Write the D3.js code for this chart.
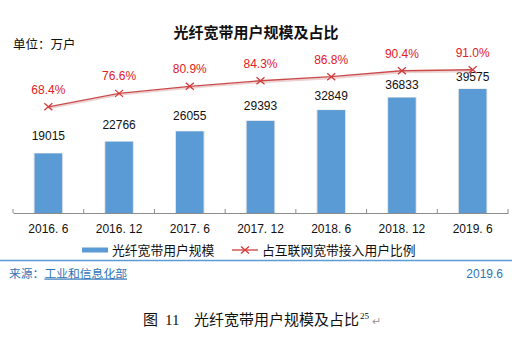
<!DOCTYPE html>
<html><head><meta charset="utf-8">
<script src="https://cdn.jsdelivr.net/npm/d3@7"></script>
<style>
html,body{margin:0;padding:0;background:#fff;}
svg{display:block;}
</style></head>
<body>
<script>
const categories = ["2016. 6","2016. 12","2017. 6","2017. 12","2018. 6","2018. 12","2019. 6"];
const users = [19015, 22766, 26055, 29393, 32849, 36833, 39575];
const shares = [68.4, 76.6, 80.9, 84.3, 86.8, 90.4, 91.0];
const titleText = "光纤宽带用户规模及占比";
const unitText = "单位：万户";
const legendBar = "光纤宽带用户规模";
const legendLine = "占互联网宽带接入用户比例";

const W = 512, H = 345;
const svg = d3.select("body").append("svg").attr("width", W).attr("height", H);
svg.append("rect").attr("width", W).attr("height", H).attr("fill", "#fff");

const sans = "'Liberation Sans', Arial, 'Noto Sans CJK SC', sans-serif";
const cjk = "'Noto Sans CJK SC', 'Liberation Sans', sans-serif";

const x = d3.scaleBand().domain(categories).range([13, 508]).paddingInner(0.61).paddingOuter(0.305);
const y = d3.scaleLinear().domain([0, 45000]).range([213, 72]);
const y2 = d3.scaleLinear().domain([0, 100]).range([219, 55]);

// title
svg.append("text").attr("x", 256).attr("y", 38).attr("text-anchor", "middle")
  .attr("font-family", cjk).attr("font-weight", "bold").attr("font-size", 15).attr("fill", "#111")
  .text(titleText);
svg.append("text").attr("x", 13).attr("y", 49)
  .attr("font-family", cjk).attr("font-size", 12.5).attr("fill", "#111").text(unitText);

// bars with subtle shadow
const cx = d => x(d) + x.bandwidth() / 2;
svg.append("g").selectAll("rect.sh").data(categories).join("rect")
  .attr("x", d => x(d) - 1).attr("width", x.bandwidth() + 2)
  .attr("y", (d, i) => y(users[i]) - 0.5).attr("height", (d, i) => 213 - y(users[i]) + 0.5)
  .attr("fill", "#e4e4e4");
svg.append("g").selectAll("rect.b").data(categories).join("rect")
  .attr("x", d => x(d)).attr("width", x.bandwidth())
  .attr("y", (d, i) => y(users[i])).attr("height", (d, i) => 213 - y(users[i]))
  .attr("fill", "#5B9BD5");

// axis
const axis = d3.axisBottom(x).tickSize(0).tickPadding(11);
const ag = svg.append("g").attr("transform", "translate(0,213)").call(axis);
ag.select(".domain").attr("stroke", "#8c8c8c").attr("stroke-width", 1);
ag.selectAll("text").attr("font-family", sans).attr("font-size", 12).attr("fill", "#111");
const bounds = categories.map(d => x(d) - x.step() * x.paddingInner() / 2).concat([508]);
ag.selectAll("line.bt").data(bounds).join("line").attr("class", "bt")
  .attr("x1", d => d).attr("x2", d => d).attr("y1", -4).attr("y2", 0)
  .attr("stroke", "#8c8c8c");

// bar value labels
svg.append("g").selectAll("text").data(categories).join("text")
  .attr("x", d => cx(d)).attr("y", (d, i) => y(users[i]) - 13 + i * 0.8)
  .attr("text-anchor", "middle").attr("font-family", sans).attr("font-size", 12).attr("fill", "#111")
  .text((d, i) => users[i]);

// line
const line = d3.line().x(d => cx(d[0])).y(d => y2(d[1]));
const pts = categories.map((d, i) => [d, shares[i]]);
svg.append("path").datum(pts).attr("d", line).attr("fill", "none")
  .attr("stroke", "#ecd2d2").attr("stroke-width", 2).attr("transform", "translate(0,1.5)");
svg.append("path").datum(pts).attr("d", line).attr("fill", "none")
  .attr("stroke", "#C94A4A").attr("stroke-width", 1.3);
const mk = (g, px, py) => {
  g.append("path").attr("d", `M${px-4},${py-3.5}L${px+4},${py+3.5}M${px-4},${py+3.5}L${px+4},${py-3.5}`)
    .attr("stroke", "#D23A3A").attr("stroke-width", 1.3).attr("fill", "none");
};
const mg = svg.append("g");
pts.forEach(p => mk(mg, cx(p[0]), y2(p[1])));
svg.append("g").selectAll("text").data(pts).join("text")
  .attr("x", d => cx(d[0])).attr("y", d => y2(d[1]) - 13)
  .attr("text-anchor", "middle").attr("font-family", sans).attr("font-size", 12).attr("fill", "#E0201F")
  .text(d => d[1].toFixed(1) + "%");

// legend
const lg = svg.append("g");
lg.append("rect").attr("x", 82).attr("y", 247.5).attr("width", 26).attr("height", 5).attr("fill", "#5B9BD5");
lg.append("text").attr("x", 112).attr("y", 255).attr("font-family", cjk).attr("font-size", 12.8).attr("fill", "#111").text(legendBar);
lg.append("line").attr("x1", 232).attr("x2", 258).attr("y1", 250).attr("y2", 250).attr("stroke", "#D23A3A").attr("stroke-width", 1.3);
mk(lg, 245, 250);
lg.append("text").attr("x", 262).attr("y", 255).attr("font-family", cjk).attr("font-size", 12.8).attr("fill", "#111").text(legendLine);

// separator
svg.append("line").attr("x1", 0).attr("x2", 512).attr("y1", 260.5).attr("y2", 260.5).attr("stroke", "#5B9BD5").attr("stroke-width", 1.5);

// source
const src = svg.append("text").attr("x", 9).attr("y", 277.5).attr("font-family", cjk).attr("font-size", 11.8).attr("fill", "#2E75B6");
src.append("tspan").text("来源：");
src.append("tspan").attr("text-decoration", "underline").text("工业和信息化部");
svg.append("text").attr("x", 503).attr("y", 277.5).attr("text-anchor", "end").attr("font-family", sans).attr("font-size", 12).attr("fill", "#2E75B6").text("2019.6");

// caption
const cap = svg.append("text").attr("y", 325).attr("font-size", 15).attr("fill", "#111");
cap.append("tspan").attr("x", 143).attr("font-family", cjk).text("图");
cap.append("tspan").attr("x", 165).attr("font-family", "'Liberation Serif', serif").text("11");
cap.append("tspan").attr("x", 194).attr("font-family", cjk).text("光纤宽带用户规模及占比");
svg.append("text").attr("x", 360).attr("y", 319).attr("font-family", "'Liberation Serif', serif").attr("font-size", 9).attr("fill", "#111").text("25");
svg.append("text").attr("x", 372).attr("y", 325).attr("font-family", sans).attr("font-size", 11).attr("fill", "#999").text("↵");
</script>
</body></html>
